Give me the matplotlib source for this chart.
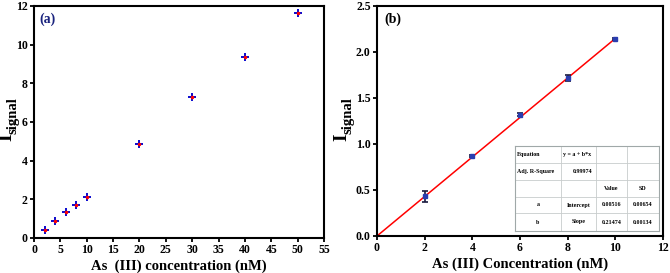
import numpy as np
import matplotlib
matplotlib.use("Agg")
from matplotlib import pyplot as plt
from matplotlib.ticker import FormatStrFormatter

# panel (a) data
conc_a = [2, 4, 6, 8, 10, 20, 30, 40, 50]
signal_a = [0.43, 0.87, 1.32, 1.72, 2.14, 4.88, 7.27, 9.38, 11.65]

# panel (b) data
conc_b = [2, 4, 6, 8, 10]
signal_b = [0.43, 0.87, 1.32, 1.72, 2.14]
err_b = [0.06, 0.012, 0.012, 0.03, 0.012]
slope = 0.21474

table_rows = [
    ["Equation", "y = a + b*x", "", ""],
    ["Adj. R-Square", "0.99974", "", ""],
    ["", "", "Value", "SD"],
    ["a", "Intercept", "0.00516", "0.00654"],
    ["b", "Slope", "0.21474", "0.00134"],
]

plt.rcParams['font.family'] = ['Liberation Serif', 'DejaVu Serif']
plt.rcParams['font.weight'] = 'bold'

fig = plt.figure(figsize=(6.7, 2.73), dpi=100)
W, H = 670, 273
ax1 = fig.add_axes([34 / W, 1 - 238 / H, (324 - 34) / W, (238 - 6) / H])
ax2 = fig.add_axes([377 / W, 1 - 236 / H, (663 - 377) / W, (236 - 6) / H])


def style_axes(ax):
    for s in ax.spines.values():
        s.set_linewidth(1.5)
    ax.tick_params(direction='out', width=1.3, length=3, labelsize=8.5, pad=1.5)
    for lab in ax.get_xticklabels() + ax.get_yticklabels():
        lab.set_fontweight('bold')


def isignal_label(x_px, y_px):
    # "I" with the "signal" subscript, drawn as two rotated texts
    fig.text(x_px / W, 1 - y_px / H, "I", rotation=90, ha='center', va='center',
             fontsize=14, fontweight='bold')
    fig.text((x_px + 6) / W, 1 - (y_px - 21) / H, "signal", rotation=90,
             ha='center', va='center', fontsize=10.5, fontweight='bold')


# (a)
ax1.plot(conc_a, signal_a, linestyle='none', marker='P', markersize=6,
         color='#1010d0', markeredgewidth=0)
ax1.plot(conc_a, signal_a, linestyle='none', marker='o', markersize=1.5,
         color='red')
ax1.set_xlim(0, 55)
ax1.set_ylim(0, 12)
ax1.set_xticks(np.arange(0, 56, 5))
ax1.set_yticks(np.arange(0, 13, 2))
ax1.set_xlabel("As  (III) concentration (nM)", fontsize=10.5, fontweight='bold', labelpad=2)
ax1.text(0.02, 0.97, "(a)", transform=ax1.transAxes, ha='left', va='top',
         fontsize=10, fontweight='bold', color='#1a237e')
style_axes(ax1)
isignal_label(7, 137)

# (b)
xfit = np.array([0, 10])
ax2.plot(xfit, slope * xfit, color='red', linewidth=1.1)
ax2.errorbar(conc_b, signal_b, yerr=err_b, fmt='s', markersize=3.5,
             color='#2a3db0', ecolor='#1a1a40', elinewidth=1.2, capsize=2.5,
             capthick=1.2, markeredgecolor='#2a3db0')
ax2.set_xlim(0, 12)
ax2.set_ylim(0, 2.5)
ax2.set_xticks(np.arange(0, 13, 2))
ax2.set_yticks(np.arange(0, 2.51, 0.5))
ax2.yaxis.set_major_formatter(FormatStrFormatter('%.1f'))
ax2.set_xlabel("As (III) Concentration (nM)", fontsize=10.5, fontweight='bold', labelpad=2)
ax2.text(0.025, 0.97, "(b)", transform=ax2.transAxes, ha='left', va='top',
         fontsize=10, fontweight='bold', color='black')
style_axes(ax2)
isignal_label(342, 137)

# stats table inset
col_px = [515, 561, 596, 627, 659]
row_px = [146, 163, 180, 197, 213, 231]
tab = fig.add_axes([col_px[0] / W, 1 - row_px[-1] / H,
                    (col_px[-1] - col_px[0]) / W, (row_px[-1] - row_px[0]) / H])
tab.set_xlim(col_px[0], col_px[-1])
tab.set_ylim(row_px[-1], row_px[0])
tab.set_facecolor('white')
for s in tab.spines.values():
    s.set_color('#a0a8a8')
    s.set_linewidth(0.8)
tab.set_xticks([])
tab.set_yticks([])
for x in col_px[1:-1]:
    tab.axvline(x, color='#c8cccc', linewidth=0.6)
for y in row_px[1:-1]:
    tab.axhline(y, color='#c8cccc', linewidth=0.6)
aligns = [['left', 'left', 'center', 'center'],
          ['left', 'right', 'center', 'center'],
          ['center', 'center', 'center', 'center'],
          ['center', 'center', 'center', 'center'],
          ['center', 'center', 'center', 'center']]
for r, row in enumerate(table_rows):
    yc = (row_px[r] + row_px[r + 1]) / 2
    for c, txt in enumerate(row):
        if not txt:
            continue
        ha = aligns[r][c]
        if ha == 'left':
            xx = col_px[c] + 2
        elif ha == 'right':
            xx = col_px[c + 1] - 4
        else:
            xx = (col_px[c] + col_px[c + 1]) / 2
        tab.text(xx, yc, txt, ha=ha, va='center', fontsize=4.3, fontweight='bold')

fig.savefig("out.png", dpi=100)
